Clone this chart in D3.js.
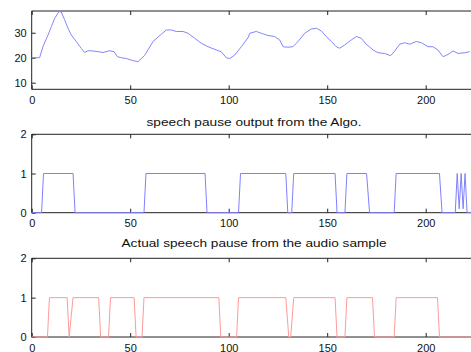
<!DOCTYPE html>
<html><head><meta charset="utf-8">
<script src="https://cdn.jsdelivr.net/npm/d3@7"></script>
<style>body{margin:0;background:#fff}svg{display:block}text{font-family:"Liberation Sans",Arial,sans-serif;fill:#111}</style>
</head><body>
<svg id="c" width="471" height="352"></svg>
<script>
// Panel 1: smooth signal (x, value)
const sigX = [0,2,4,5.7,8.3,10,11.7,13.9,15,16.7,18.4,20.1,22.7,25.2,26.9,28.6,31.1,33.7,36.2,39.6,41.8,43.5,45.5,48,50.6,54,57.4,61.6,65.8,68.3,70.9,73.4,76.8,79.3,82.7,86.1,89.5,93.7,96.2,98.8,100.5,103,106.4,109.8,110.7,114,116.5,119.9,123.3,125.9,127.6,130.1,132.6,135.2,138.6,141.9,144.5,147,149.5,152.1,154.6,156.3,158.9,162.2,164.8,167.3,169.8,173.3,175.8,179.2,182.2,184.3,186.8,189.3,191.9,195.2,197.8,201.2,203.7,206.2,208.8,211.3,213.9,216.4,219.8,222.3];
const sigY = [20,20,20,24.4,29.1,32.5,35.8,38.5,38.3,35.2,31.8,29.1,26.4,23.7,22.1,22.8,22.7,22.4,22.1,22.8,22.4,20.4,20,19.7,19.0,18.4,21,26.5,29.4,31.1,31.1,30.5,30.5,29.8,27.8,25.8,24.4,23.1,22.4,20,19.7,21,24.4,28,29.8,30.5,29.8,28.9,28.5,27.1,24.4,24.2,24.4,26.5,29.8,31.5,31.8,30.7,28.5,26.5,24.4,23.8,25.1,27.1,28.5,27.8,25.4,23.1,22,21.7,20.8,22.7,25.4,26,25.4,26.5,26,24.4,24.4,23.1,20.4,21.3,22.7,21.7,22,22.4];
// Panel 2: algorithm pause output, corner points
const algoX = [0,5,6,21,22,57,58,88,89,105,106,129,130,132,133,154,155,159,160,170,171.5,184,185,207,208.3,215,216,217,218,219,220,221,223];
const algoY = [0,0,1,1,0,0,1,1,0,0,1,1,0,0,1,1,0,0,1,1,0,0,1,1,0,0,1,0.1,1,0.1,1,0,0];
// Panel 3: actual pause, corner points
const actX = [0,8,9,18,19,21,34,35,39,40,52,53,56,57,95,96,104,105,129,130.5,131.5,133,154,155,159,160,173,174,184,185,206,207,223];
const actY = [0,0,1,1,0,1,1,0,0,1,1,0,0,1,1,0,0,1,1,0,0,1,1,0,0,1,1,0,0,1,1,0,0];

const xTicks = [0,50,100,150,200];
const p1Ticks = [10,20,30];
const pTicks = [0,1,2];
const title2 = "speech pause output from the Algo.";
const title3 = "Actual speech pause from the audio sample";

const svg = d3.select("#c");
const x = d3.scaleLinear().domain([0,223]).range([31.7,471]);

function panel(top, bottom, ydom, yt, xs, ys, color, labelY){
  const y = d3.scaleLinear().domain(ydom).range([bottom, top]);
  const g = svg.append("g");
  // line
  const line = d3.line().x((d,i)=>x(xs[i])).y((d,i)=>y(ys[i]));
  // frame
  g.append("line").attr("x1",x.range()[0]).attr("x2",475).attr("y1",top).attr("y2",top).attr("stroke","#222");
  g.append("line").attr("x1",x.range()[0]).attr("x2",475).attr("y1",bottom).attr("y2",bottom).attr("stroke","#222");
  g.append("line").attr("x1",x.range()[0]).attr("x2",x.range()[0]).attr("y1",top).attr("y2",bottom).attr("stroke","#222");
  // ticks (inward)
  const xb = g.append("g").attr("transform",`translate(0,${bottom})`)
    .call(d3.axisBottom(x).tickValues(xTicks).tickSize(-4).tickPadding(7).tickFormat(d3.format("d")));
  xb.select(".domain").remove();
  const xt = g.append("g").attr("transform",`translate(0,${top})`)
    .call(d3.axisTop(x).tickValues(xTicks).tickSize(-4).tickFormat(""));
  xt.select(".domain").remove();
  const ya = g.append("g").attr("transform",`translate(${x.range()[0]},0)`)
    .call(d3.axisLeft(y).tickValues(yt).tickSize(-4).tickPadding(5).tickFormat(d3.format("d")));
  ya.select(".domain").remove();
  g.selectAll(".tick line").attr("stroke","#222");
  g.selectAll(".tick text").attr("font-size",11).attr("font-family","Liberation Sans, Arial, sans-serif").attr("fill","#111");
  g.append("path").attr("d",line(xs)).attr("fill","none").attr("stroke",color).attr("stroke-width",1);
  return g;
}

panel(11, 89.3, [7.35,38.7], p1Ticks, sigX, sigY, "#8585ff");
panel(134.3, 212.7, [0,2], pTicks, algoX, algoY, "#8080ff");
panel(258.3, 337, [0,2], pTicks, actX, actY, "#ff9a9a");

svg.append("text").attr("x",254).attr("y",126).attr("text-anchor","middle").attr("font-size",11)
  .attr("textLength",215).attr("lengthAdjust","spacingAndGlyphs").text(title2);
svg.append("text").attr("x",254).attr("y",247).attr("text-anchor","middle").attr("font-size",11)
  .attr("textLength",265).attr("lengthAdjust","spacingAndGlyphs").text(title3);
</script>
</body></html>
